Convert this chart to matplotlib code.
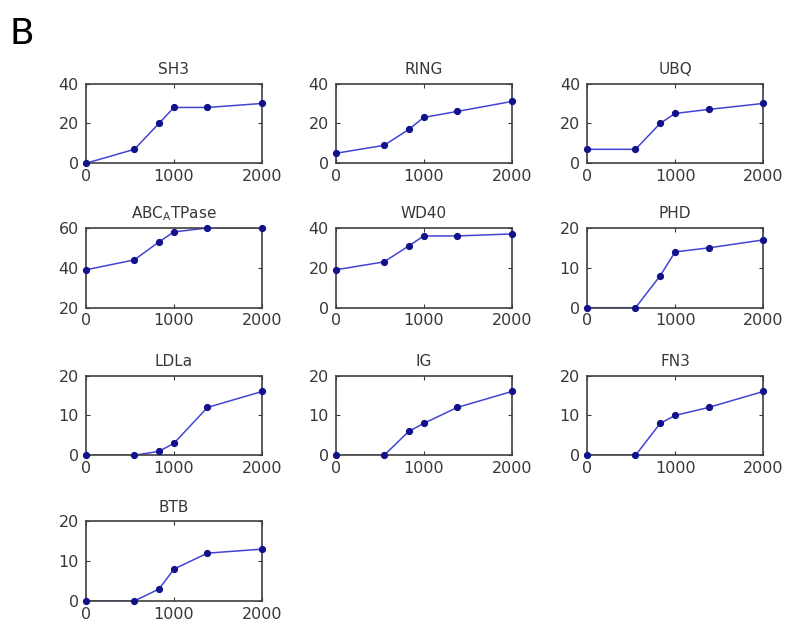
import matplotlib
matplotlib.use("Agg")
import matplotlib.pyplot as plt

# lengths sampled (x) and counts per domain family (y)
lengths = [0, 550, 830, 1000, 1380, 2000]

names = ["SH3", "RING", "UBQ", "ABC$_{\\mathregular{A}}$TPase", "WD40", "PHD",
         "LDLa", "IG", "FN3", "BTB"]
sh3 = [0, 7, 20, 28, 28, 30]
ring = [5, 9, 17, 23, 26, 31]
ubq = [7, 7, 20, 25, 27, 30]
abc = [39, 44, 53, 58, 60, 60]
wd40 = [19, 23, 31, 36, 36, 37]
phd = [0, 0, 8, 14, 15, 17]
ldla = [0, 0, 1, 3, 12, 16]
ig = [0, 0, 6, 8, 12, 16]
fn3 = [0, 0, 8, 10, 12, 16]
btb = [0, 0, 3, 8, 12, 13]
series = [sh3, ring, ubq, abc, wd40, phd, ldla, ig, fn3, btb]

ylims = [(0, 40), (0, 40), (0, 40), (20, 60), (0, 40), (0, 20),
         (0, 20), (0, 20), (0, 20), (0, 20)]

lefts = [0.109, 0.426, 0.745]
bottoms = [0.740, 0.510, 0.275, 0.043]
w, h = 0.2235, 0.127

txt = "#383838"
fig = plt.figure(figsize=(7.88, 6.28), dpi=100)

for i, (name, vals, yl) in enumerate(zip(names, series, ylims)):
    r, c = divmod(i, 3)
    ax = fig.add_axes([lefts[c], bottoms[r], w, h])
    ax.plot(lengths, vals, "-", color="#4444d4", lw=1.1, zorder=2)
    ax.plot(lengths, vals, "o", color="#12128c", ms=4.2, zorder=3, clip_on=False)
    ax.set_xlim(0, 2000)
    ax.set_ylim(*yl)
    ax.set_xticks([0, 1000, 2000])
    ax.set_yticks([yl[0], (yl[0] + yl[1]) / 2, yl[1]])
    ax.tick_params(direction="in", top=True, right=True, length=3,
                   labelsize=11.5, colors=txt)
    ax.tick_params(axis="x", pad=4)
    ax.tick_params(axis="y", pad=5)
    for sp in ax.spines.values():
        sp.set_color("#404040")
        sp.set_linewidth(1.2)
    ax.set_title(name, fontsize=11, color=txt, pad=7)

fig.text(0.012, 0.93, "B", fontsize=26, color="black")

fig.savefig("out.png", dpi=100)
